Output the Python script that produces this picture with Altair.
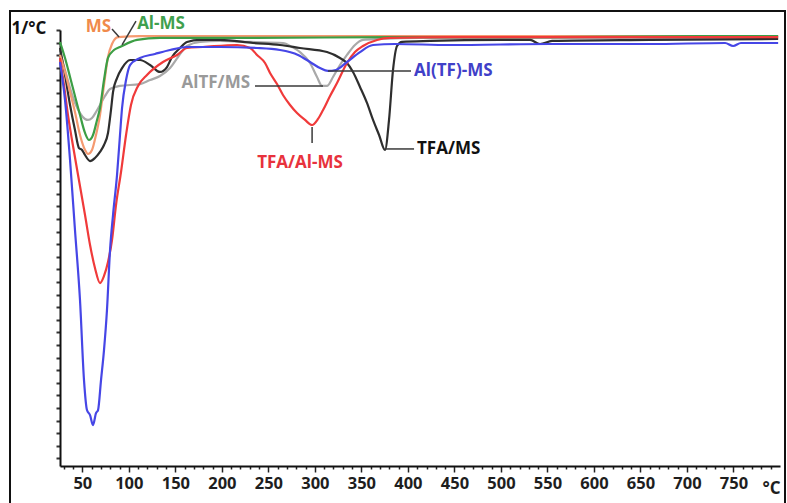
import altair as alt
import pandas as pd

# ---- data: temperature (°C) and DTG (1/°C, arbitrary units; 1 y-tick = 1 unit)
altf_T = [26, 31.4, 36.8, 42.1, 47.5, 52.9, 56.1, 60.4, 64.7, 69, 74.4, 79.8, 90.5, 112, 122.8, 133.5, 144.3, 152.9, 162.5, 176.5, 198, 230.3, 265.7, 275.4, 284, 294.8, 302.3, 307.7, 313, 319.5, 327, 334.5, 343.1, 351.7, 370, 413, 606.5, 798]
altf_v = [-1.75, -3.17, -4.60, -5.79, -6.59, -7.06, -7.14, -6.98, -6.51, -5.95, -5.24, -4.68, -4.44, -4.29, -3.97, -3.65, -3.02, -2.14, -1.27, -0.95, -0.87, -0.95, -1.03, -1.35, -1.75, -2.62, -3.73, -4.44, -4.44, -3.73, -2.78, -1.98, -1.19, -0.79, -0.71, -0.63, -0.63, -0.63]

tfa_T = [26, 31.4, 36.8, 42.1, 46.4, 49.7, 52.9, 58.3, 63.6, 69, 73.3, 77.6, 80.8, 83, 87.3, 92.7, 101.3, 112, 122.8, 133.5, 141, 146.4, 155, 162.5, 176.5, 198, 233.5, 262.5, 284, 313, 327, 334.5, 341, 348.5, 356, 362.5, 369, 375.4, 379.7, 384, 388.3, 393.7, 423.8, 499, 531.3, 542, 555, 660, 798]
tfa_v = [-1.43, -3.57, -5.95, -7.94, -9.37, -9.52, -9.92, -10.40, -10.16, -9.68, -9.13, -8.17, -6.35, -4.92, -3.81, -3.02, -2.38, -2.38, -2.78, -3.33, -2.94, -2.14, -1.43, -0.95, -0.79, -0.79, -1.03, -1.19, -1.43, -1.75, -2.22, -2.62, -3.33, -4.52, -5.79, -7.14, -8.33, -9.52, -7.14, -3.17, -1.27, -0.95, -0.87, -0.79, -0.79, -1.11, -0.87, -0.79, -0.71]

ms_T = [26, 31.4, 36.8, 42.1, 47.5, 52.9, 56.1, 60.4, 64.7, 69, 73.3, 77.6, 81.9, 88.4, 112, 284, 499, 798]
ms_v = [-1.98, -3.33, -4.92, -6.51, -8.33, -9.52, -9.84, -9.52, -8.33, -6.75, -4.37, -2.14, -1.11, -0.56, -0.48, -0.48, -0.48, -0.48]

almd_T = [26, 31.4, 36.8, 42.1, 47.5, 52.9, 57.2, 61.5, 65.8, 69, 73.3, 77.6, 84, 90.5, 108.8, 133.5, 230, 391.5, 553, 714, 798]
almd_v = [-0.95, -2.22, -3.73, -5.24, -6.75, -8.17, -8.73, -8.33, -7.14, -6.19, -3.97, -2.22, -1.59, -1.35, -0.79, -0.63, -0.63, -0.56, -0.56, -0.48, -0.48]

tfaal_T = [26, 30.3, 34.6, 38.9, 45.4, 52.9, 58.3, 63.6, 69, 73.3, 77.6, 81.9, 86.2, 91.6, 97, 102.3, 109.9, 119.5, 136.7, 151.8, 162.5, 179.7, 216.3, 230.3, 237.8, 246.4, 251.8, 259.3, 265.7, 273.3, 280.8, 289.4, 297, 303.4, 308.8, 316.3, 323.8, 334.5, 343.1, 351.7, 366.8, 380.8, 445.3, 606.5, 798]
tfaal_v = [-2.22, -4.37, -6.75, -8.73, -11.51, -14.68, -17.06, -18.89, -20.08, -19.52, -18.41, -16.67, -13.89, -11.27, -8.33, -5.95, -4.44, -3.57, -2.54, -1.98, -1.43, -1.35, -1.19, -1.43, -1.98, -2.62, -3.41, -4.29, -5.16, -5.95, -6.59, -7.14, -7.54, -7.06, -6.35, -5.24, -4.21, -2.62, -1.75, -1.27, -0.79, -0.63, -0.56, -0.56, -0.56]

altfms_T = [26, 31.4, 36.8, 42.1, 47.5, 51.8, 55, 58.3, 61.5, 64.7, 66.9, 70.1, 73.3, 76.5, 79.8, 83, 87.3, 90.5, 92.7, 97, 101.3, 112, 128, 144.3, 162.5, 198, 237.8, 262.5, 281.9, 294.8, 305.5, 314.1, 322.7, 334.5, 348.5, 362.5, 386.1, 445.3, 553, 660, 741, 749.6, 758, 798]
altfms_v = [-2.54, -5.56, -10.32, -15.87, -21.43, -27.78, -30.16, -30.56, -31.35, -30.40, -30.16, -27.78, -25.40, -22.22, -17.46, -14.68, -11.51, -8.33, -6.19, -3.97, -2.78, -2.22, -1.90, -1.59, -1.35, -1.35, -1.43, -1.59, -1.98, -2.54, -3.02, -3.25, -3.17, -2.54, -1.75, -1.19, -1.11, -1.19, -1.11, -1.11, -1.03, -1.27, -1.03, -1.03]

series = [
    ("AlTF/MS", altf_T, altf_v, "#A9A9A9"),
    ("TFA/MS", tfa_T, tfa_v, "#2E2E2E"),
    ("MS", ms_T, ms_v, "#F59A70"),
    ("Al-MS", almd_T, almd_v, "#3C9E45"),
    ("TFA/Al-MS", tfaal_T, tfaal_v, "#F03A3A"),
    ("Al(TF)-MS", altfms_T, altfms_v, "#4646E6"),
]

# annotation labels
lab_text = ["MS", "Al-MS", "AlTF/MS", "TFA/Al-MS", "TFA/MS", "Al(TF)-MS"]
lab_T = [67.4, 134.6, 230.3, 284.0, 409.8, 406.6]
lab_v = [0.24, 0.48, -4.21, -10.56, -9.44, -3.25]
lab_align = ["center", "center", "right", "center", "left", "left"]
lab_color = ["#F08A4B", "#3FA04E", "#9A9A9A", "#E8323C", "#111111", "#4040C8"]

# leader lines (start -> end)
lead_T = [81.9, 107.7, 235.6, 297.0, 375.4, 314.1]
lead_v = [0.08, 0.71, -4.44, -7.70, -9.44, -3.25]
lead_T2 = [89.5, 92.7, 308.7, 297.0, 406.6, 403.3]
lead_v2 = [-0.56, -1.19, -4.44, -8.97, -9.44, -3.25]

x_ticks = list(range(30, 800, 10))
y_ticks = list(range(-34, 1))

xscale = alt.Scale(domain=[26, 800], nice=False, zero=False)
yscale = alt.Scale(domain=[-34.6, 0], nice=False, zero=False)

FONT = "Open Sans"

xaxis = alt.Axis(
    values=x_ticks,
    labelExpr="datum.value % 50 == 0 ? datum.label : ''",
    tickSize={"condition": {"test": "datum.value % 50 == 0", "value": 6}, "value": 3},
    tickColor="#222222", tickWidth=1.5,
    domainColor="#111111", domainWidth=2,
    grid=False, labelOverlap=False,
    labelFont=FONT, labelFontSize=16.5, labelFontWeight="bold", labelColor="#1E1E1E",
    labelPadding=3,
    title="°C", titleFont=FONT, titleFontSize=17, titleFontWeight="bold", titleColor="#1E1E1E",
    titleX=702, titleY=22, titleAlign="left", titleBaseline="middle", titleAnchor="start",
)
yaxis = alt.Axis(
    values=y_ticks, labels=False,
    tickSize=4, tickWidth=2, tickColor="#333333",
    domainColor="#111111", domainWidth=2, grid=False,
    title="1/°C", titleFont=FONT, titleFontSize=17, titleFontWeight="bold", titleColor="#111111",
    titleAngle=0, titleX=-49, titleY=-2, titleAlign="left", titleBaseline="middle",
)

X = lambda f: alt.X(f, scale=xscale, axis=xaxis)
Y = lambda f: alt.Y(f, scale=yscale, axis=yaxis)

layers = []
for name, T, v, col in series:
    df = pd.DataFrame({"T": T, "v": v})
    layers.append(
        alt.Chart(df).mark_line(color=col, strokeWidth=2.2, interpolate="monotone").encode(
            x=X("T:Q"), y=Y("v:Q")
        )
    )

lead_df = pd.DataFrame({"T": lead_T, "v": lead_v, "T2": lead_T2, "v2": lead_v2})
layers.append(
    alt.Chart(lead_df).mark_rule(color="#3A3A3A", strokeWidth=1.5).encode(
        x=X("T:Q"), x2="T2:Q", y=Y("v:Q"), y2="v2:Q"
    )
)

for t, T, v, al, col in zip(lab_text, lab_T, lab_v, lab_align, lab_color):
    d = pd.DataFrame({"T": [T], "v": [v], "t": [t]})
    layers.append(
        alt.Chart(d).mark_text(
            align=al, baseline="middle", font=FONT, fontSize=17, fontWeight="bold", color=col
        ).encode(x=X("T:Q"), y=Y("v:Q"), text="t:N")
    )

frame = alt.Chart(pd.DataFrame({"a": [0]})).mark_rect(
    filled=False, stroke="#111111", strokeWidth=2
).encode(x=alt.value(-50), x2=alt.value(725), y=alt.value(-19), y2=alt.value(480))
layers.append(frame)

chart = alt.layer(*layers).properties(
    width=720, height=436,
    padding={"left": 60, "top": 30, "right": 7, "bottom": 37},
    autosize=alt.AutoSizeParams(type="none"),
    background="white",
).configure_view(stroke=None)

chart.save("out.html", embed_options={"renderer": "svg", "actions": False})
